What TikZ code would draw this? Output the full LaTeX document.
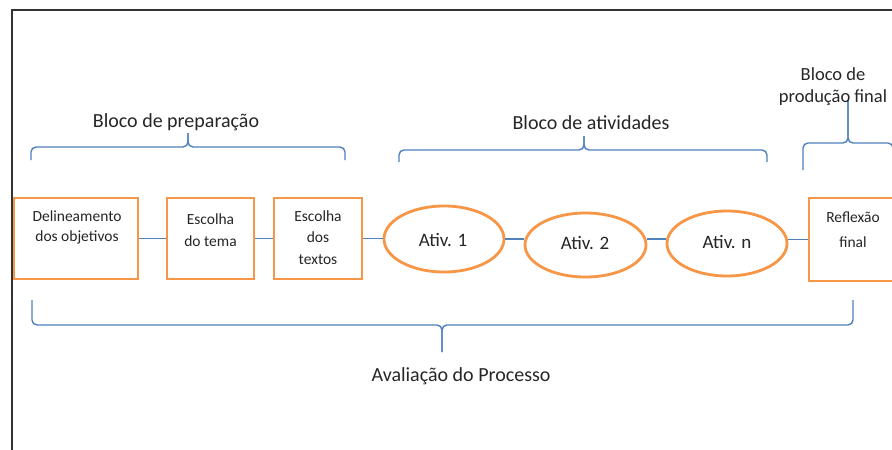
\documentclass[tikz,border=0pt]{standalone}
\usepackage{fontspec}
\setmainfont{Carlito}
\usetikzlibrary{shapes.geometric}
\definecolor{org}{HTML}{F79646}
\definecolor{lblue}{HTML}{4F81BD}
\definecolor{txt}{HTML}{262626}
\begin{document}
\begin{tikzpicture}[x=1pt,y=-1pt,
  obox/.style={draw=org, line width=2.8pt, rectangle, inner sep=0pt},
  oell/.style={draw=org, line width=2.8pt, ellipse, inner sep=0pt},
  btxt/.style={align=center, inner sep=0pt, text=txt},
  head/.style={align=center, inner sep=0pt, text=txt, font=\fontsize{20}{22}\selectfont},
  link/.style={draw=lblue, line width=1.4pt},
  brc/.style={draw=lblue, line width=1.4pt, rounded corners=5pt}]
\useasboundingbox (0,0) rectangle (892,450);
\clip (0,0) rectangle (892,450);
\fill[white] (0,0) rectangle (892,450);
% frame
\draw[line width=2pt, black!80] (12,455) -- (12,10) -- (900,10);
% boxes
\node[obox, minimum width=124pt, minimum height=81pt] (b1) at (76,238.5) {};
\node[obox, minimum width=87pt, minimum height=81pt] (b2) at (210.5,238.5) {};
\node[obox, minimum width=88pt, minimum height=81pt] (b3) at (318,238.5) {};
\node[obox, minimum width=88pt, minimum height=83pt] (b4) at (853,239.5) {};
\node[btxt, font=\fontsize{15.5}{20}\selectfont] (t1) at (77,227) {Delineamento\\dos objetivos};
\node[btxt, font=\fontsize{15.5}{22}\selectfont] (t2) at (210.5,230) {Escolha\\do tema};
\node[btxt, font=\fontsize{15.5}{21.5}\selectfont] (t3) at (318,237.5) {Escolha\\dos\\textos};
\node[btxt, font=\fontsize{15.5}{25}\selectfont] (t4) at (853,229.5) {Reflexão\\final};
% ellipses
\node[oell, minimum width=120pt, minimum height=66pt] (e1) at (444,239) {};
\node[oell, minimum width=121pt, minimum height=64pt] (e2) at (585.5,245) {};
\node[oell, minimum width=120pt, minimum height=65pt] (e3) at (727,243.5) {};
\node[btxt, font=\fontsize{19}{22}\selectfont] (a1) at (443,240) {Ativ. 1};
\node[btxt, font=\fontsize{19}{22}\selectfont] (a2) at (585,243) {Ativ. 2};
\node[btxt, font=\fontsize{19}{22}\selectfont] (a3) at (727,242) {Ativ. n};
% connectors
\draw[link] (b1.east) -- (b2.west);
\draw[link] (b2.east) -- (b3.west);
\draw[link] (b3.east) -- (b3.east -| e1.west);
\draw[link] (e1.east) -- (e1.east -| e2.west);
\draw[link] (e1.east -| e2.east) -- (e1.east -| e3.west);
\draw[link] (e3.east |- b4.west) -- (b4.west);
% braces
\draw[brc] (31,160) -- (31,147) -- (188,147) -- (188,133);
\draw[brc] (345,160) -- (345,147) -- (188,147) -- (188,133);
\draw[brc] (399,162) -- (399,150) -- (584,150) -- (584,136);
\draw[brc] (767,162) -- (767,150) -- (584,150) -- (584,136);
\draw[brc] (803,170) -- (803,143) -- (848,143) -- (848,100);
\draw[brc] (893,170) -- (893,143) -- (848,143) -- (848,100);
\draw[brc] (32,300) -- (32,325) -- (442,325) -- (442,352);
\draw[brc] (853,300) -- (853,325) -- (442,325) -- (442,352);
% headings
\node[head] (h1) at (176,122) {Bloco de preparação};
\node[head] (h2) at (591,123) {Bloco de atividades};
\node[head, font=\fontsize{18.5}{22}\selectfont] (h3) at (833,87) {Bloco de\\produção final};
\node[head] (h4) at (461,376) {Avaliação do Processo};
\end{tikzpicture}
\end{document}
